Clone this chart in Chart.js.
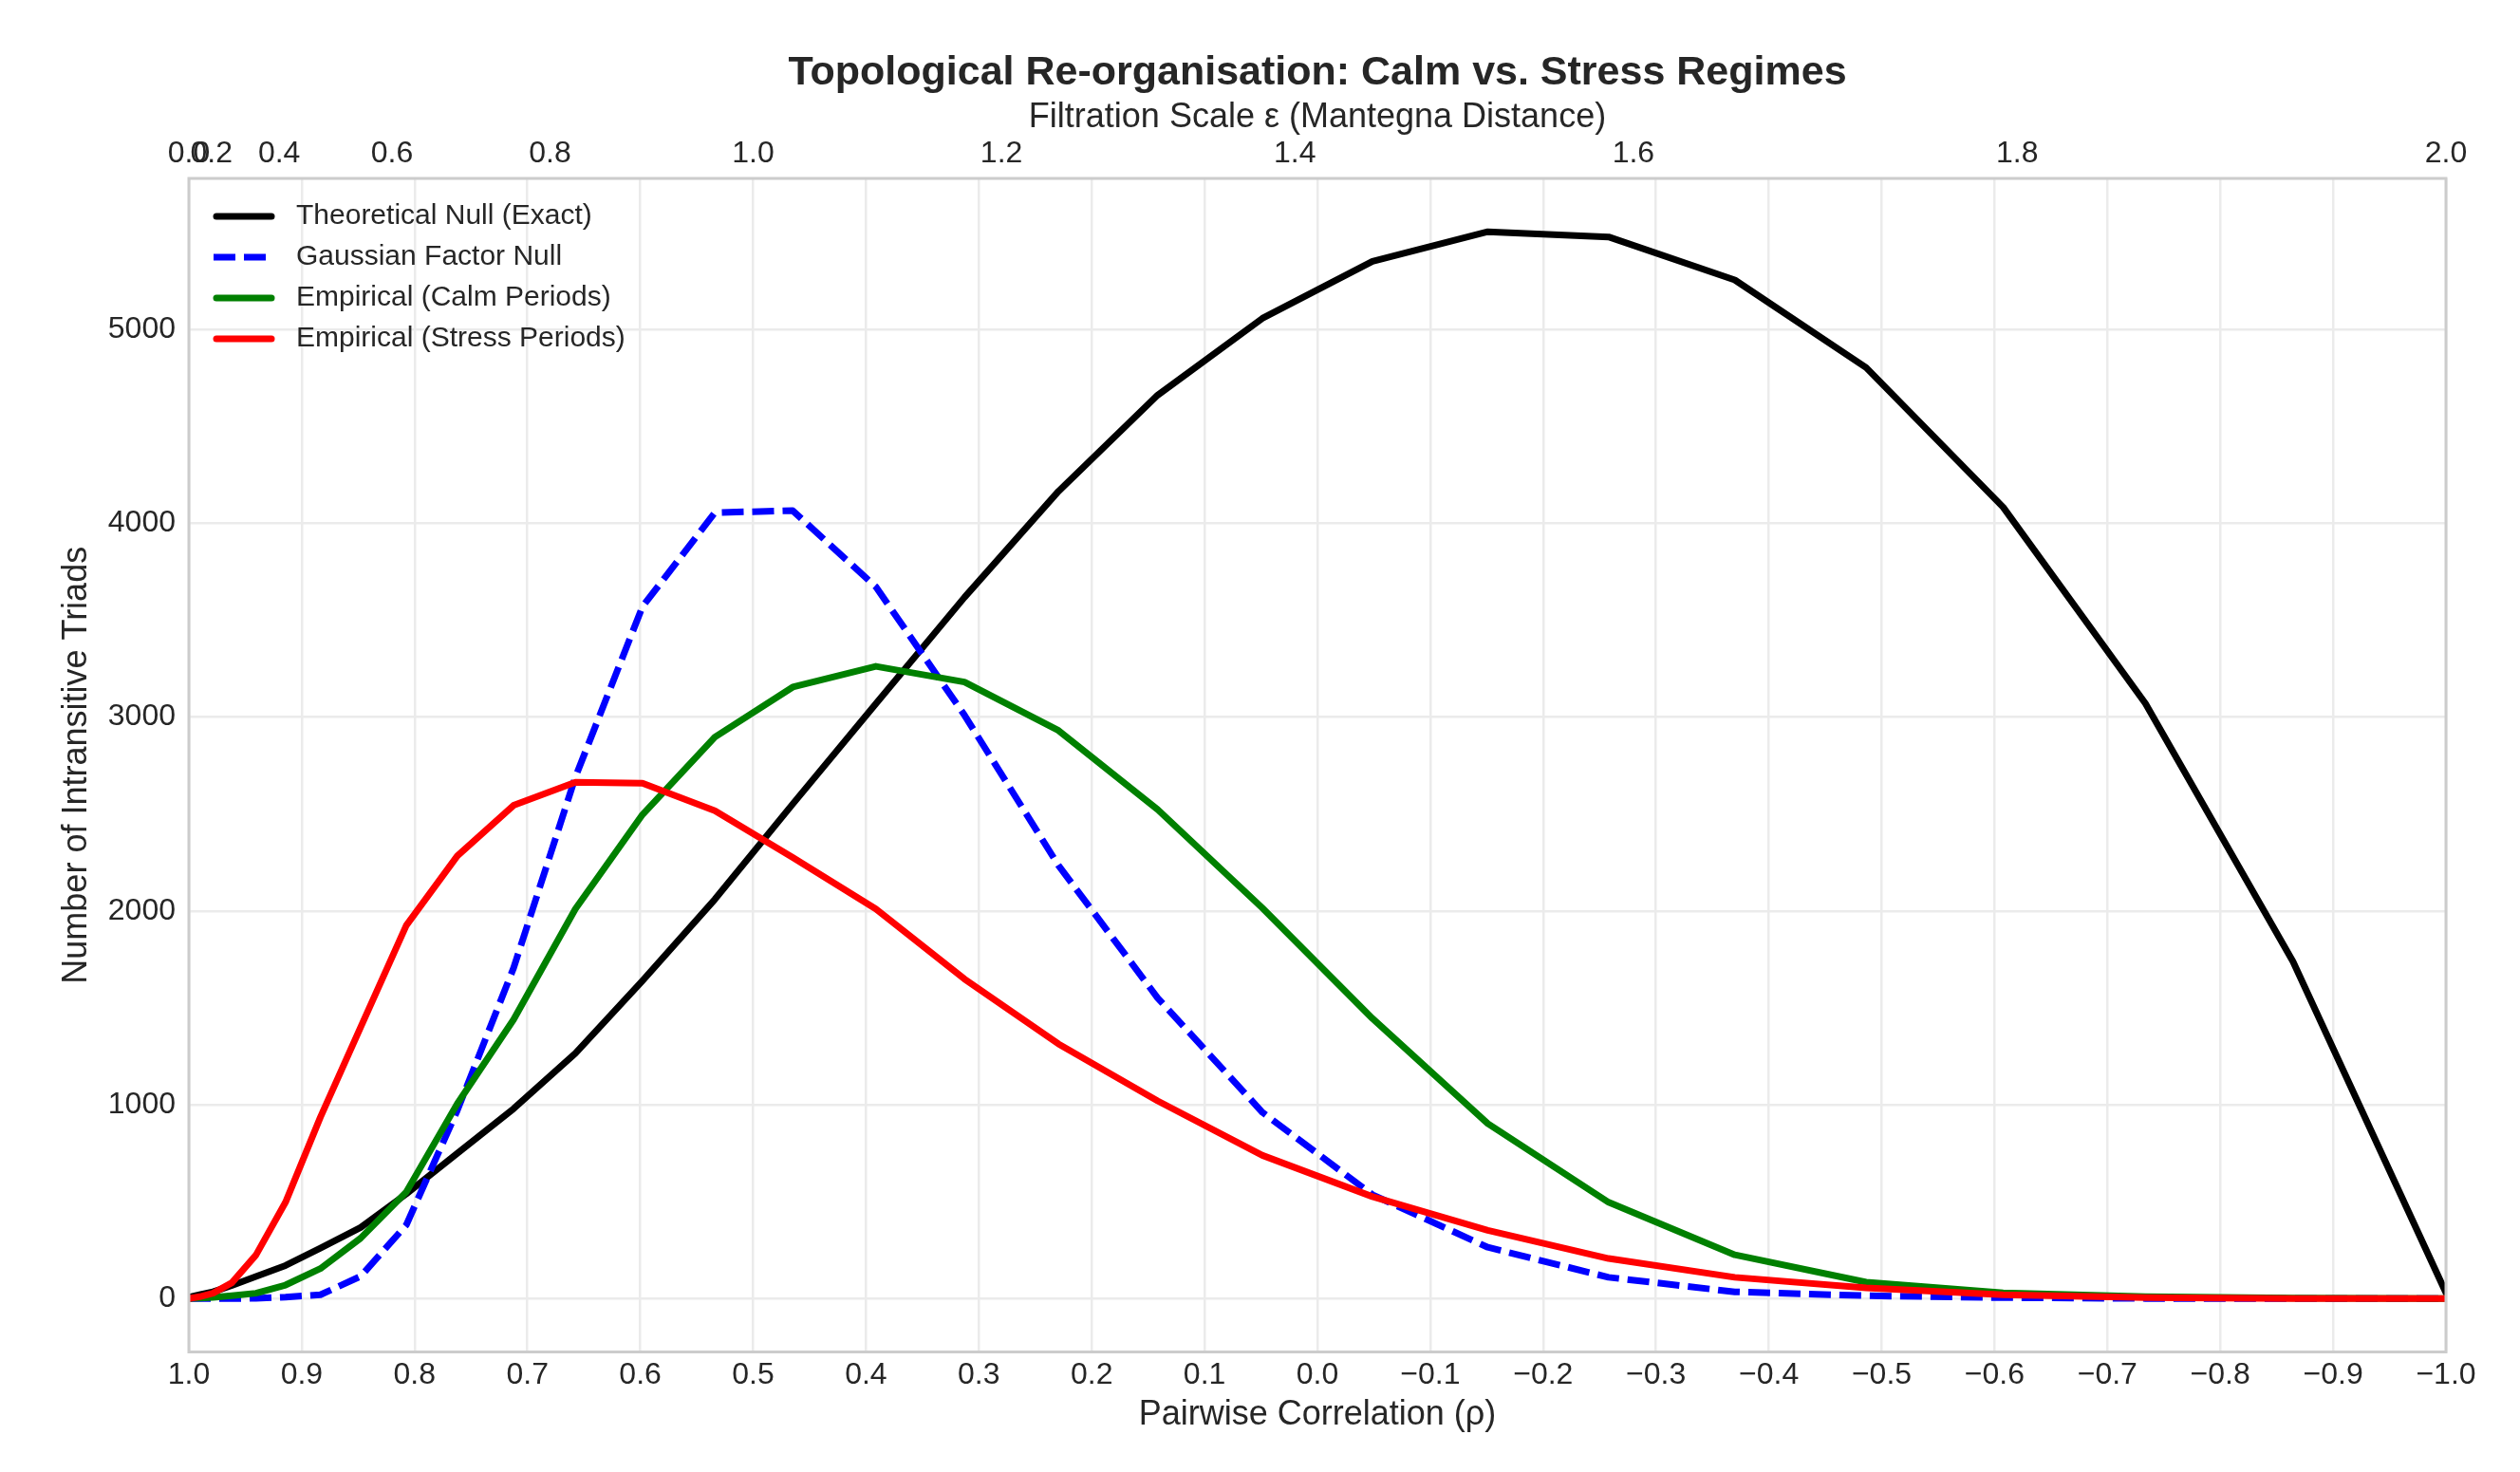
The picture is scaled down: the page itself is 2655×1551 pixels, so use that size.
<!DOCTYPE html>
<html>
<head>
<meta charset="utf-8">
<title>Topological Re-organisation: Calm vs. Stress Regimes</title>
<script src="https://cdn.jsdelivr.net/npm/chart.js@4.4.1/dist/chart.umd.min.js"></script>
<style>
  html, body { margin: 0; padding: 0; background: #ffffff; }
  #wrap { width: 2655px; height: 1551px; }
</style>
</head>
<body>
<div id="wrap"><canvas id="triadsChart" width="2655" height="1551"></canvas></div>
<script>
// filtration grid: Mantegna distance eps, 30 steps from 0 to 2
const epsGrid = [
  0.0000, 0.0690, 0.1379, 0.2069, 0.2759, 0.3448, 0.4138, 0.4828, 0.5517, 0.6207,
  0.6897, 0.7586, 0.8276, 0.8966, 0.9655, 1.0345, 1.1034, 1.1724, 1.2414, 1.3103,
  1.3793, 1.4483, 1.5172, 1.5862, 1.6552, 1.7241, 1.7931, 1.8621, 1.9310, 2.0000
];

// number of intransitive triads per filtration step
const theoreticalNull = [
  0, 11, 20, 35, 68, 114, 171, 261, 367, 540,
  750, 980, 1265, 1640, 2060, 2552, 3069, 3618, 4165, 4661,
  5057, 5351, 5504, 5477, 5255, 4803, 4083, 3070, 1740, 30
];
const gaussianNull = [
  0, 0, 0, 0, 0, 2, 8, 20, 115, 380,
  971, 1706, 2690, 3570, 4055, 4065, 3672, 3010, 2235, 1551,
  961, 536, 265, 110, 35, 15, 5, 1, 0, 0
];
const calmPeriods = [
  0, 1, 3, 7, 15, 28, 70, 155, 312, 550,
  1005, 1440, 2010, 2497, 2897, 3155, 3262, 3181, 2931, 2523,
  2015, 1445, 903, 497, 226, 85, 30, 10, 3, 0
];
const stressPeriods = [
  0, 3, 10, 28, 82, 225, 497, 936, 1400, 1925,
  2284, 2545, 2664, 2659, 2517, 2276, 2010, 1649, 1314, 1020,
  739, 526, 352, 207, 110, 55, 20, 5, 1, 0
];

// tick labels
const rhoTicks = [1.0, 0.9, 0.8, 0.7, 0.6, 0.5, 0.4, 0.3, 0.2, 0.1, 0.0,
  -0.1, -0.2, -0.3, -0.4, -0.5, -0.6, -0.7, -0.8, -0.9, -1.0];
const epsTicks = [0.0, 0.2, 0.4, 0.6, 0.8, 1.0, 1.2, 1.4, 1.6, 1.8, 2.0];
const yTicks = [0, 1000, 2000, 3000, 4000, 5000];

const TEXT = "#262626";
const GRID = "#ebebeb";
const FONT = "'Liberation Sans', Arial, Helvetica, sans-serif";

// rho = 1 - eps^2 / 2
const rhoOf = (e) => 1 - (e * e) / 2;
const toPoints = (vals) => vals.map((v, i) => ({ x: rhoOf(epsGrid[i]), y: v }));
const fmtTick = (v) => v.toFixed(1).replace("-", "\u2212");

Chart.defaults.font.family = FONT;
Chart.defaults.color = TEXT;

const frame = {
  id: "frame",
  afterDatasetsDraw(chart) {
    const { ctx, chartArea: a } = chart;
    ctx.save();
    ctx.strokeStyle = "#cccccc";
    ctx.lineWidth = 3;
    ctx.strokeRect(a.left, a.top, a.right - a.left, a.bottom - a.top);
    ctx.restore();
  },
};

// matplotlib-style legend, upper left inside the axes
const lineLegend = {
  id: "lineLegend",
  afterDraw(chart) {
    const { ctx, chartArea: a } = chart;
    const x0 = a.left + 27;
    ctx.save();
    ctx.font = "30px " + FONT;
    ctx.textBaseline = "middle";
    ctx.textAlign = "left";
    chart.data.datasets.forEach((ds, i) => {
      const y = a.top + 40 + i * 43;
      ctx.beginPath();
      if (ds.borderDash) {
        ctx.setLineDash(ds.borderDash);
        ctx.lineCap = "butt";
        ctx.moveTo(x0 - 1, y);
        ctx.lineTo(x0 + 63, y);
      } else {
        ctx.setLineDash([]);
        ctx.lineCap = "round";
        ctx.moveTo(x0 + 2, y);
        ctx.lineTo(x0 + 60, y);
      }
      ctx.lineWidth = ds.borderWidth;
      ctx.strokeStyle = ds.borderColor;
      ctx.stroke();
      ctx.setLineDash([]);
      ctx.fillStyle = TEXT;
      ctx.fillText(ds.label, x0 + 86, y);
    });
    ctx.restore();
  },
};

const ctx = document.getElementById("triadsChart").getContext("2d");

new Chart(ctx, {
  type: "line",
  data: {
    datasets: [
      {
        label: "Theoretical Null (Exact)",
        data: toPoints(theoreticalNull),
        borderColor: "#000000",
        borderWidth: 7,
        order: 4,
      },
      {
        label: "Gaussian Factor Null",
        data: toPoints(gaussianNull),
        borderColor: "#0000ff",
        borderWidth: 7,
        borderDash: [23, 9],
        borderCapStyle: "butt",
        order: 3,
      },
      {
        label: "Empirical (Calm Periods)",
        data: toPoints(calmPeriods),
        borderColor: "#008000",
        borderWidth: 7,
        order: 2,
      },
      {
        label: "Empirical (Stress Periods)",
        data: toPoints(stressPeriods),
        borderColor: "#ff0000",
        borderWidth: 7,
        order: 1,
      },
    ],
  },
  options: {
    responsive: false,
    animation: false,
    devicePixelRatio: 1,
    layout: { padding: { left: 0, right: 78, top: 0, bottom: 0 } },
    elements: {
      point: { radius: 0, hoverRadius: 0 },
      line: { tension: 0, fill: false, borderCapStyle: "round", borderJoinStyle: "round" },
    },
    plugins: {
      legend: { display: false },
      tooltip: { enabled: false },
      title: {
        display: true,
        fullSize: false,
        text: "Topological Re-organisation: Calm vs. Stress Regimes",
        color: TEXT,
        font: { size: 43, weight: "bold" },
        padding: { top: 51, bottom: 0 },
      },
    },
    scales: {
      x: {
        type: "linear",
        position: "bottom",
        min: -1,
        max: 1,
        reverse: true,
        afterBuildTicks: (axis) => {
          axis.ticks = rhoTicks.map((v) => ({ value: v }));
        },
        afterFit: (axis) => {
          axis.height = 126.5;
        },
        ticks: {
          autoSkip: false,
          maxRotation: 0,
          padding: 5,
          color: TEXT,
          font: { size: 32 },
          callback: (v) => fmtTick(v),
        },
        grid: { color: GRID, lineWidth: 2.5, drawTicks: false },
        border: { display: false },
        title: {
          display: true,
          text: "Pairwise Correlation (\u03c1)",
          color: TEXT,
          font: { size: 36 },
          padding: { top: 0, bottom: 38 },
        },
      },
      x2: {
        type: "linear",
        position: "top",
        min: -1,
        max: 1,
        reverse: true,
        afterBuildTicks: (axis) => {
          axis.ticks = epsTicks.map((e) => ({ value: rhoOf(e) }));
        },
        afterFit: (axis) => {
          axis.height = 85.4;
        },
        ticks: {
          autoSkip: false,
          maxRotation: 0,
          padding: 7,
          color: TEXT,
          font: { size: 32 },
          callback: (v, i) => epsTicks[i].toFixed(1),
        },
        grid: { display: false, drawTicks: false },
        border: { display: false },
        title: {
          display: true,
          text: "Filtration Scale \u03b5 (Mantegna Distance)",
          color: TEXT,
          font: { size: 36 },
          padding: { top: 0, bottom: 0 },
        },
      },
      y: {
        type: "linear",
        min: -275,
        max: 5779,
        afterBuildTicks: (axis) => {
          axis.ticks = yTicks.map((v) => ({ value: v }));
        },
        afterFit: (axis) => {
          axis.width = 199;
        },
        ticks: {
          padding: 14,
          color: TEXT,
          font: { size: 32 },
          callback: (v) => String(v),
        },
        grid: { color: GRID, lineWidth: 2.5, drawTicks: false },
        border: { display: false },
        title: {
          display: true,
          text: "Number of Intransitive Triads",
          color: TEXT,
          font: { size: 36 },
          padding: { top: 59, bottom: 0 },
        },
      },
    },
  },
  plugins: [frame, lineLegend],
});
</script>
</body>
</html>
